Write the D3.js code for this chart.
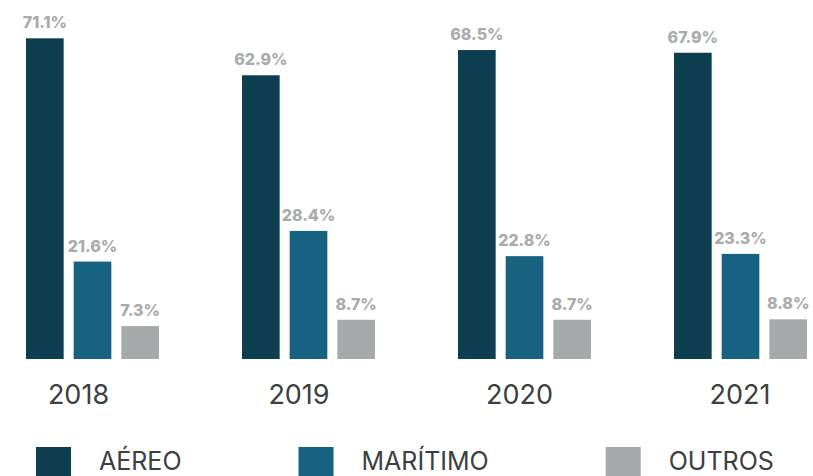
<!DOCTYPE html>
<meta charset="utf-8">
<style>
  body { margin: 0; background: #fff; }
  svg text { font-family: Inter, "Open Sans", sans-serif; }
</style>
<script src="https://d3js.org/d3.v7.min.js"></script>
<div id="chart"></div>
<script>
  // data
  var years = ["2018", "2019", "2020", "2021"];
  var modes = ["AÉREO", "MARÍTIMO", "OUTROS"];
  var aereo = [71.1, 62.9, 68.5, 67.9];
  var maritimo = [21.6, 28.4, 22.8, 23.3];
  var outros = [7.3, 8.7, 8.7, 8.8];
  var colors = ["#0d3e4f", "#176280", "#a6aaaa"];

  var width = 813, height = 476;
  var baseline = 359;

  var rows = years.map(function (y, i) {
    return { year: y, values: [aereo[i], maritimo[i], outros[i]] };
  });

  var svg = d3.select("#chart")
    .append("svg")
    .attr("width", width)
    .attr("height", height);

  // group scale
  var x0 = d3.scaleBand()
    .domain(years)
    .range([26, 807 + 83])
    .paddingInner(0)
    .paddingOuter(0);

  var x1 = d3.scaleBand()
    .domain(modes)
    .range([0, 133])
    .paddingInner(0.21);

  var y = d3.scaleLinear()
    .domain([0, 71.1])
    .range([baseline, 38.3]);

  var groups = svg.selectAll("g.year")
    .data(rows)
    .enter()
    .append("g")
    .attr("class", "year")
    .attr("transform", function (d) { return "translate(" + x0(d.year) + ",0)"; });

  var bars = groups.selectAll("g.bar")
    .data(function (d) {
      return d.values.map(function (v, i) { return { mode: modes[i], value: v, idx: i }; });
    })
    .enter()
    .append("g")
    .attr("class", "bar");

  bars.append("rect")
    .attr("x", function (d) { return x1(d.mode); })
    .attr("width", x1.bandwidth())
    .attr("y", function (d) { return y(d.value); })
    .attr("height", function (d) { return baseline - y(d.value); })
    .attr("fill", function (d) { return colors[d.idx]; });

  bars.append("text")
    .attr("x", function (d) { return x1(d.mode) + x1.bandwidth() / 2; })
    .attr("y", function (d) { return y(d.value) - 10; })
    .attr("text-anchor", "middle")
    .attr("fill", "#a8acac")
    .style("font-size", "16px")
    .style("font-weight", "800")
    .text(function (d) { return d.value.toFixed(1) + "%"; });

  // year labels (spaced a little wider than the groups)
  var xYear = d3.scalePoint()
    .domain(years)
    .range([78.5, 740]);

  svg.selectAll("text.yr")
    .data(years)
    .enter()
    .append("text")
    .attr("class", "yr")
    .attr("x", function (d) { return xYear(d); })
    .attr("y", 404)
    .attr("text-anchor", "middle")
    .attr("fill", "#3b4040")
    .style("font-size", "27px")
    .text(function (d) { return d; });

  // legend
  var legend = svg.append("g").attr("class", "legend");
  var lx = 36;
  modes.forEach(function (m, i) {
    var item = legend.append("g").attr("transform", "translate(" + lx + ",447)");
    item.append("rect")
      .attr("width", 35)
      .attr("height", 35)
      .attr("fill", colors[i]);
    var t = item.append("text")
      .attr("x", 63)
      .attr("y", 23)
      .attr("fill", "#3b4040")
      .style("font-size", "25px")
      .text(m);
    lx += 63 + t.node().getComputedTextLength() + 117;
  });
</script>
